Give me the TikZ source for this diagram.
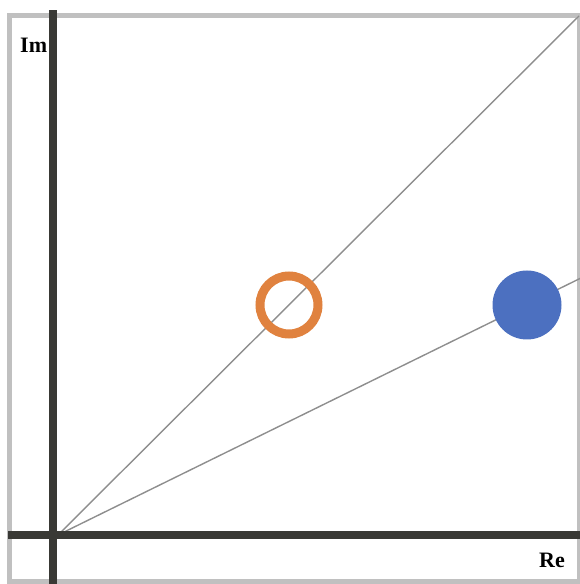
\documentclass[tikz,border=0pt]{standalone}
\usepackage{fontspec}
\setmainfont{Liberation Serif}
\definecolor{framegray}{HTML}{C0C0C0}
\definecolor{axisdark}{HTML}{393935}
\definecolor{raygray}{HTML}{8E8E8E}
\definecolor{ringorange}{HTML}{E0823F}
\definecolor{dotblue}{HTML}{4C70C0}
\begin{document}
\begin{tikzpicture}[x=1pt,y=1pt,
  frame/.style={draw=framegray,line width=5pt},
  axis/.style={draw=axisdark,line width=8pt},
  ray/.style={draw=raygray,line width=1.4pt},
  lbl/.style={font=\fontsize{22}{25}\selectfont\bfseries,inner sep=0pt}]
\useasboundingbox (0,0) rectangle (580,584);
\draw[frame] (9.5,568.5) rectangle (579.5,2);
% rays
\coordinate (o) at (58,49);
\coordinate (r1) at (579,568);
\coordinate (r2) at (581,306);
\draw[ray] (o) -- (r1);
\draw[ray] (o) -- (r2);
% labels
\node[lbl,anchor=west] (im) at (20,539) {Im};
\node[lbl] (re) at (552,24) {Re};
% axes
\coordinate (yt) at (52.5,574);
\coordinate (yb) at (52.5,-5);
\coordinate (xl) at (8,49);
\coordinate (xr) at (585,49);
\draw[axis] (yb) -- (yt);
\draw[axis] (xl) -- (xr);
% points
\node[circle,draw=ringorange,line width=9pt,minimum size=58pt,inner sep=0pt] (p1) at (289,279) {};
\node[circle,fill=dotblue,minimum size=69pt,inner sep=0pt] (p2) at (527,279) {};
\end{tikzpicture}
\end{document}
